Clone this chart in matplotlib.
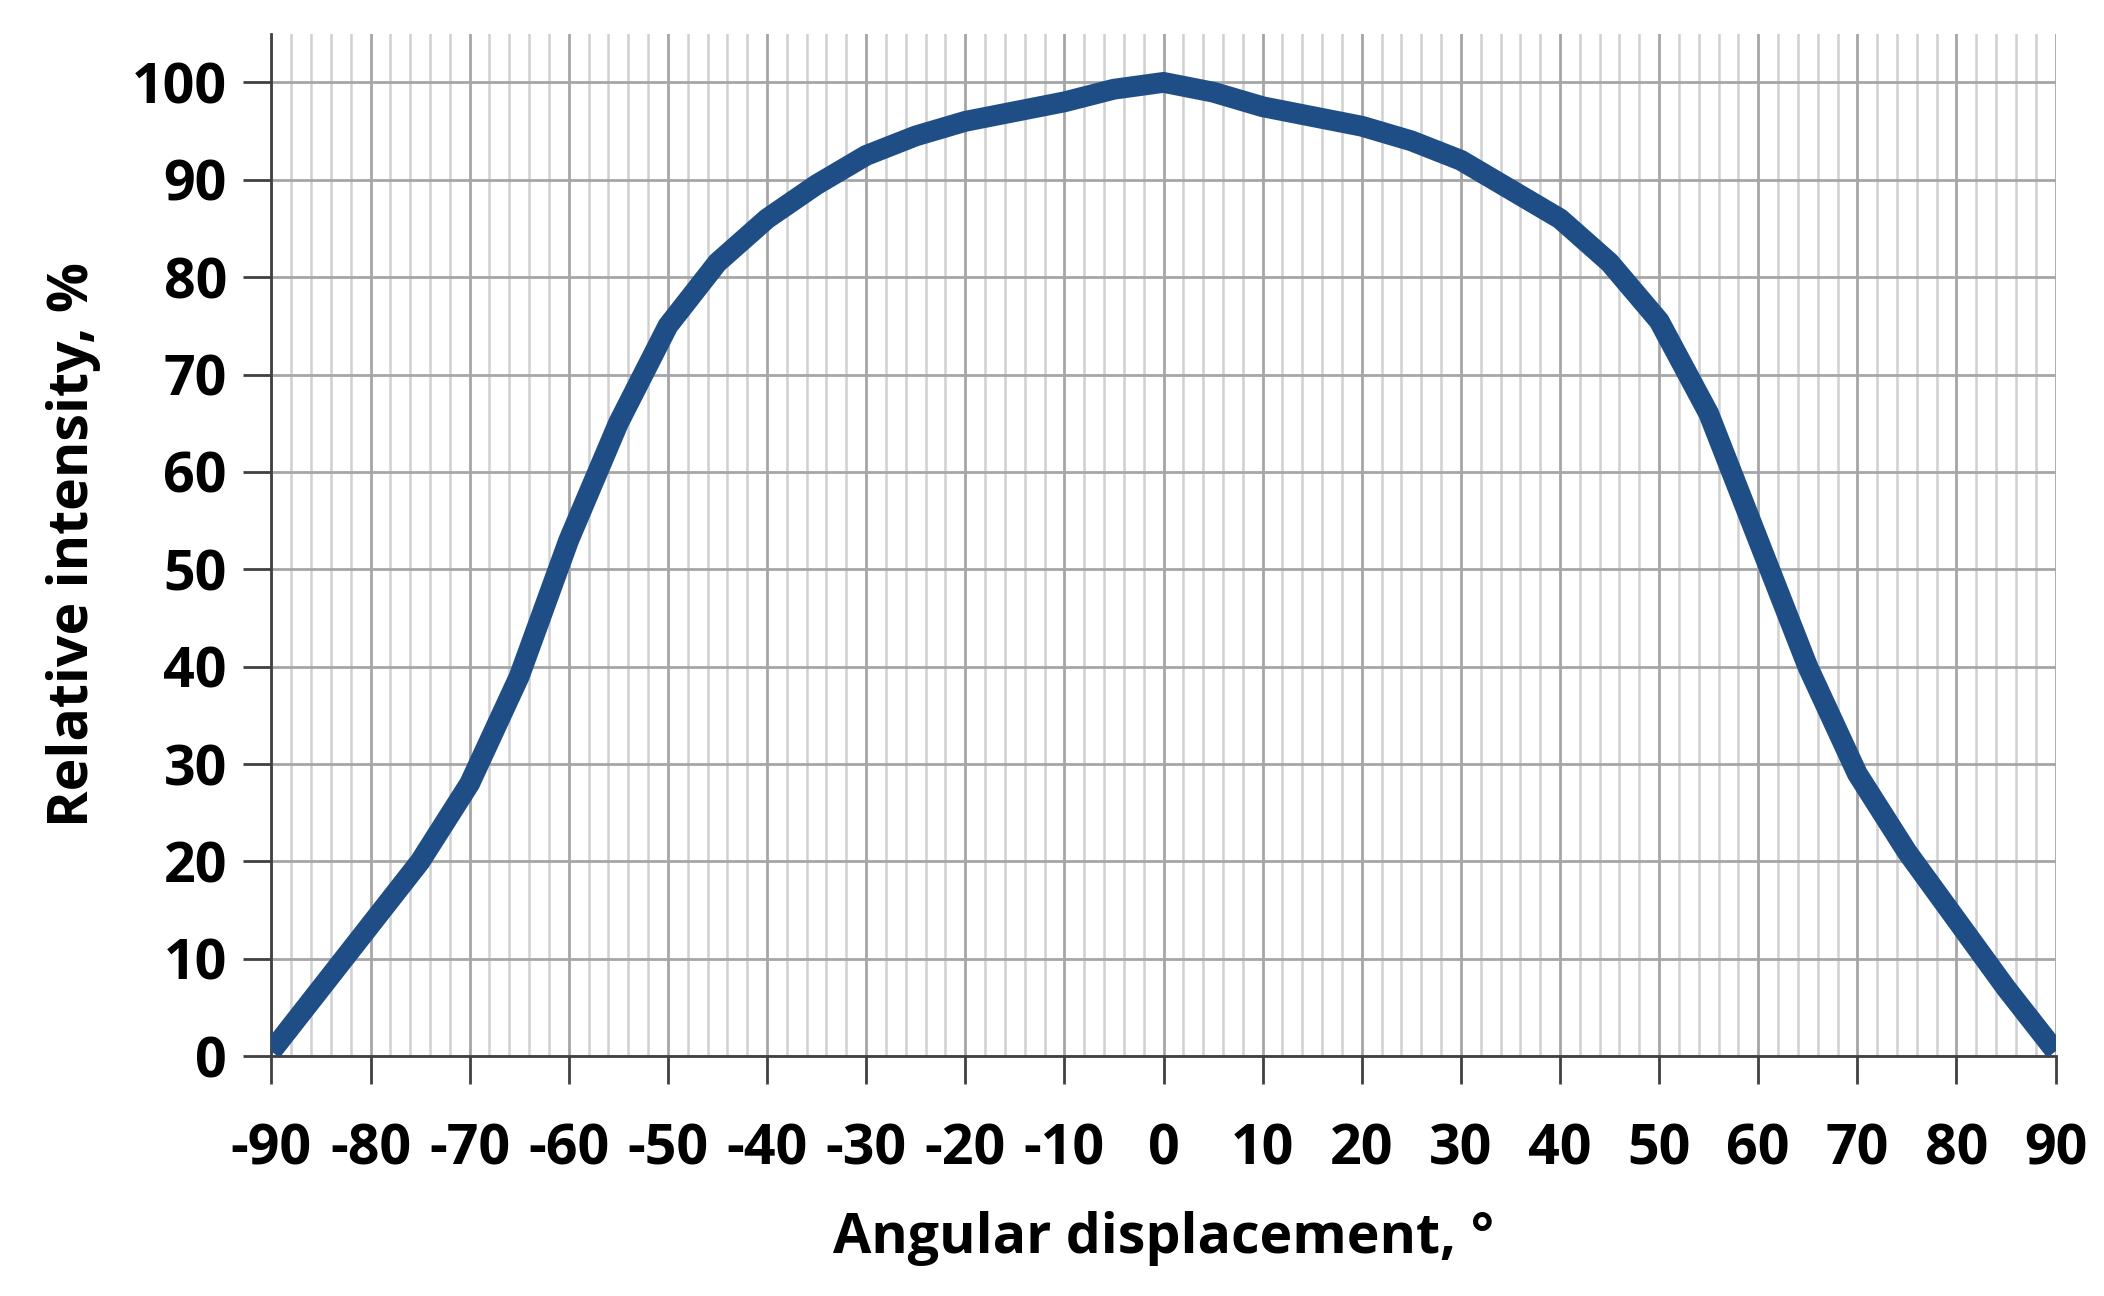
import numpy as np
import matplotlib
matplotlib.use("Agg")
from matplotlib import pyplot as plt
from matplotlib.ticker import MultipleLocator

angles = [-90, -85, -80, -75, -70, -65, -60, -55, -50, -45, -40, -35, -30, -25, -20,
          -15, -10, -5, 0, 5, 10, 15, 20, 25, 30, 35, 40, 45, 50, 55, 60, 65, 70, 75,
          80, 85, 90]
intensity = [0.5, 7, 13.5, 20, 28, 39, 53, 65, 75, 81.5, 86, 89.5, 92.5, 94.5, 96,
             97, 98, 99.3, 100, 99, 97.5, 96.5, 95.5, 94, 92, 89, 86, 81.5, 75.5, 66,
             53, 40, 29, 21, 14, 7, 0.5]

plt.rcParams['font.family'] = ['Open Sans', 'DejaVu Sans']
plt.rcParams['font.weight'] = 'bold'
plt.rcParams['axes.unicode_minus'] = False

fig = plt.figure(figsize=(21.04, 12.96), dpi=100)
ax = fig.add_axes([0.129, 0.185, 0.848, 0.789])

ax.plot(angles, intensity, color='#1f4e86', lw=15, solid_joinstyle='round',
        solid_capstyle='butt', zorder=3)

ax.set_xlim(-90, 90)
ax.set_ylim(0, 105)
ax.xaxis.set_major_locator(MultipleLocator(10))
ax.xaxis.set_minor_locator(MultipleLocator(2))
ax.set_yticks(np.arange(0, 101, 10))

ax.grid(which='major', color='#a6a6a6', lw=2)
ax.grid(which='minor', axis='x', color='#d0d0d0', lw=1.8)
ax.set_axisbelow(True)

for side in ['top', 'right']:
    ax.spines[side].set_visible(False)
for side in ['left', 'bottom']:
    ax.spines[side].set_color('#404040')
    ax.spines[side].set_linewidth(2)

ax.tick_params(which='major', length=20, width=2, color='#404040', labelsize=40, pad=28)
ax.tick_params(which='minor', length=0)
ax.tick_params(axis='y', pad=12)

ax.set_xlabel('Angular displacement, °', fontsize=40, fontweight='bold', labelpad=24)
ax.set_ylabel('Relative intensity, %', fontsize=40, fontweight='bold', labelpad=22)

fig.savefig('out.png', dpi=100)
